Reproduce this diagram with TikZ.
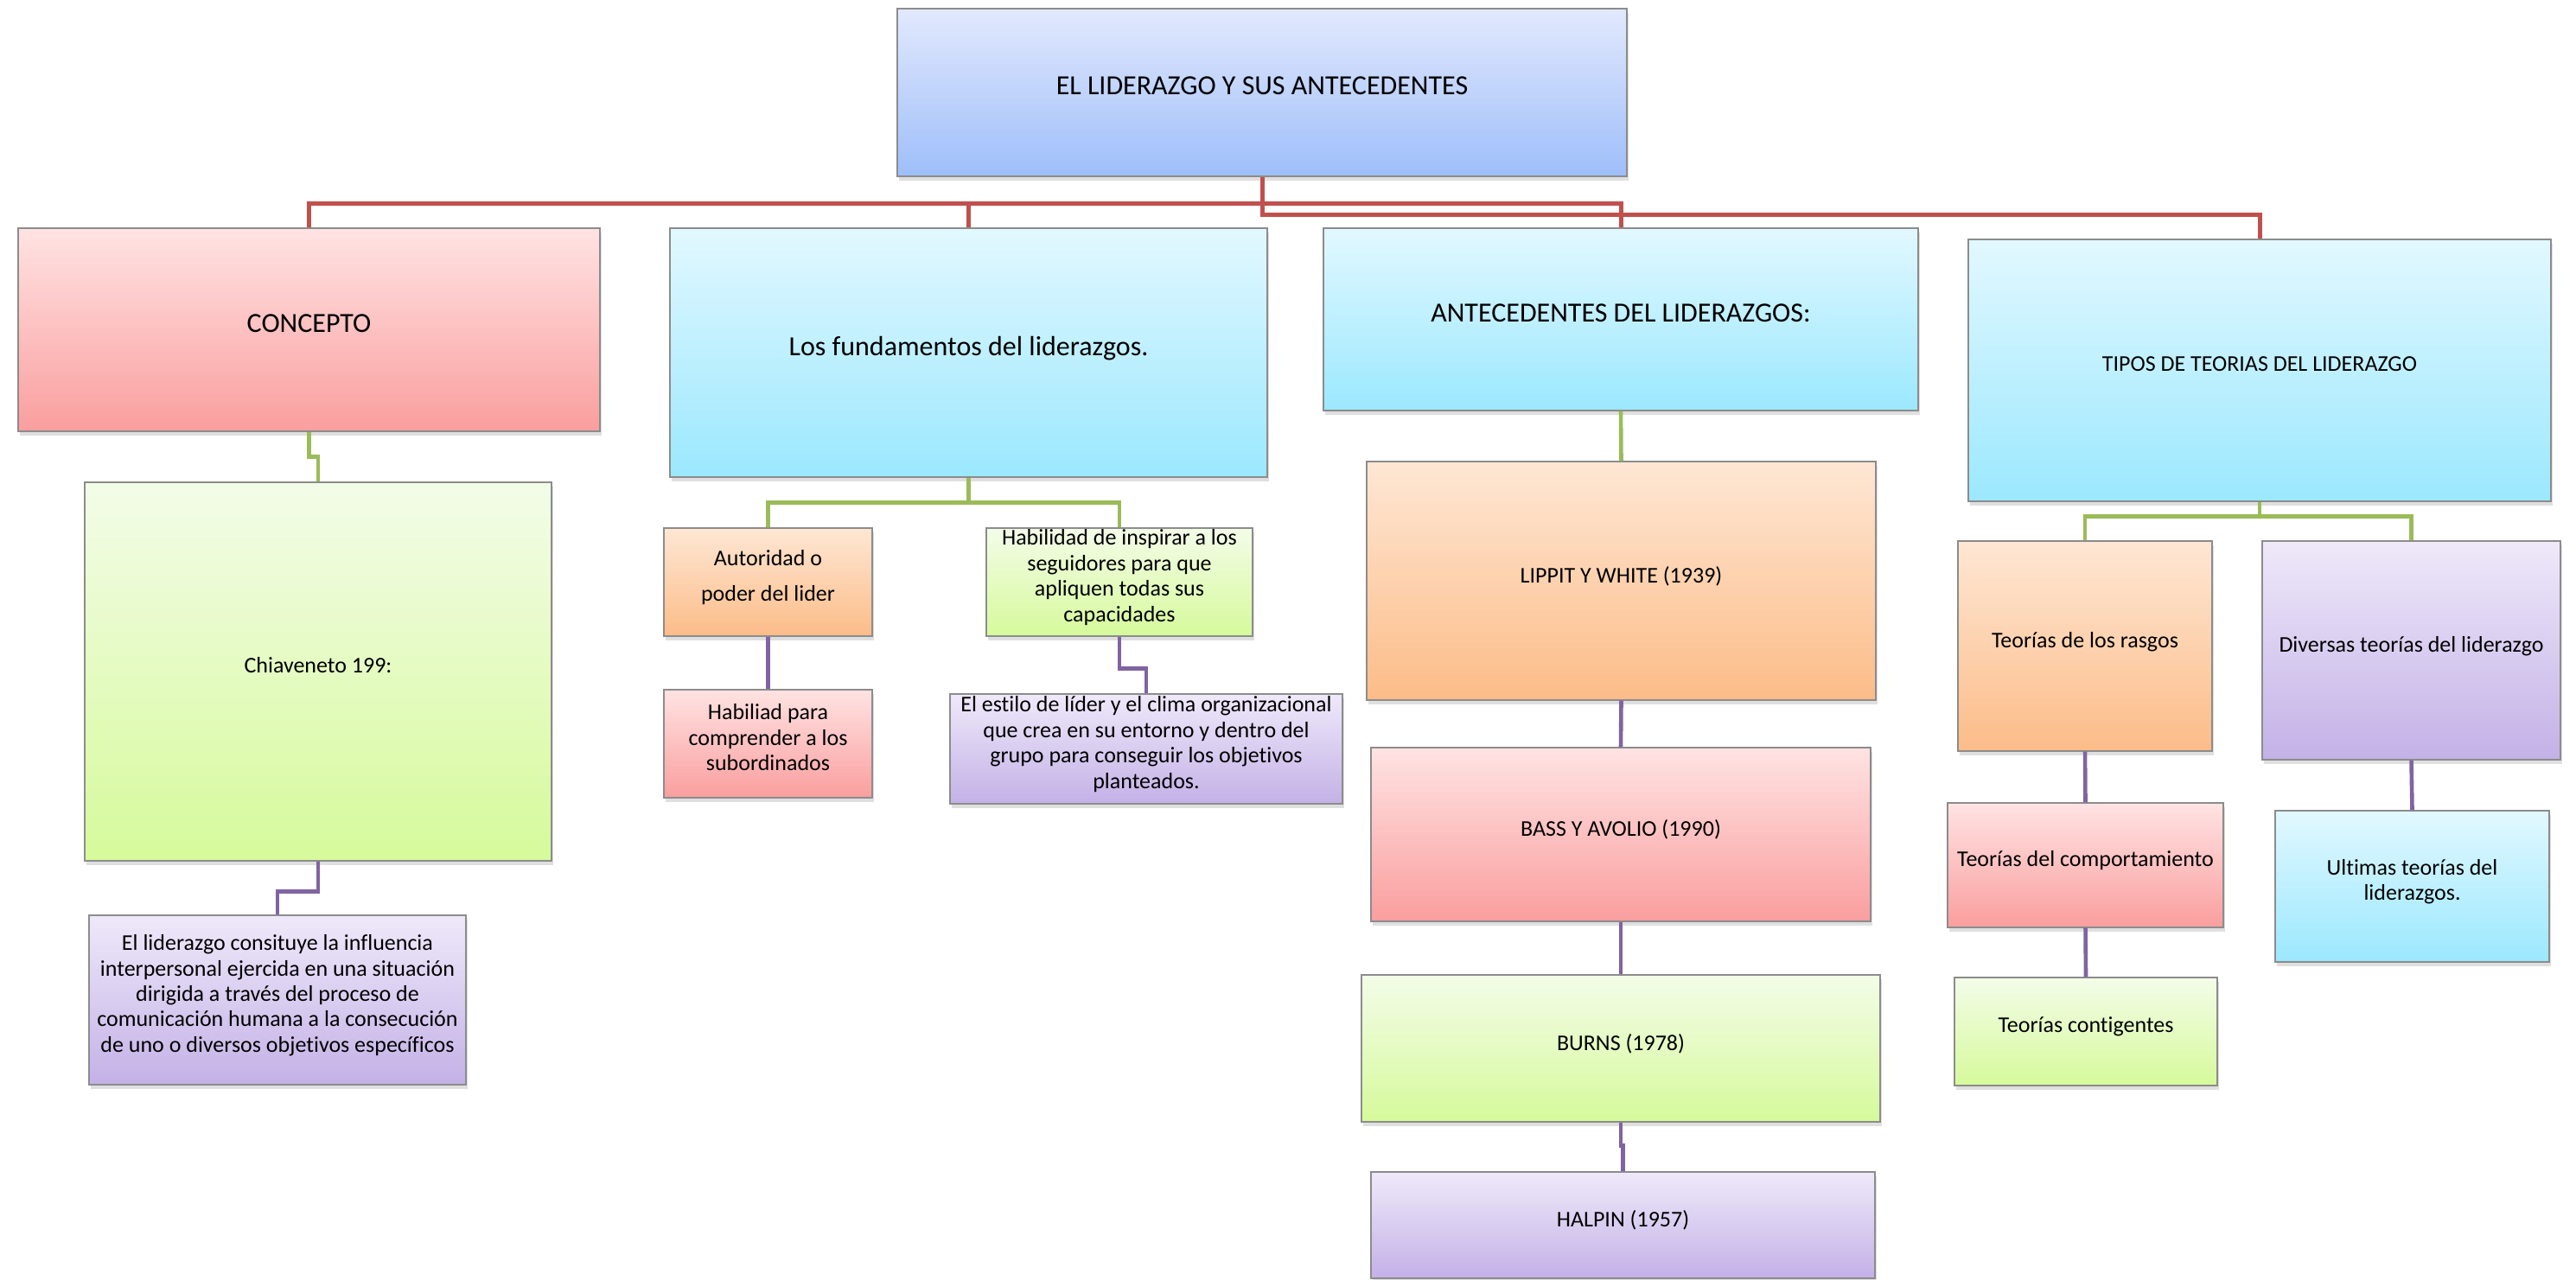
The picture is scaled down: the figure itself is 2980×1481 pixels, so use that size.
\documentclass[tikz,border=0pt]{standalone}
\usepackage{fontspec}
\setmainfont{Carlito}[Ligatures=NoCommon]
\usetikzlibrary{shadows}

%line colours
\definecolor{rojolinea}{RGB}{192,80,77}
\definecolor{verdelinea}{RGB}{155,187,89}
\definecolor{moradolinea}{RGB}{128,100,162}
%fill colours
\definecolor{azulA}{RGB}{226,233,253}
\definecolor{azulB}{RGB}{158,190,250}
\definecolor{rosaA}{RGB}{255,227,227}
\definecolor{rosaB}{RGB}{250,158,158}
\definecolor{cianA}{RGB}{226,248,255}
\definecolor{cianB}{RGB}{155,232,254}
\definecolor{verdeA}{RGB}{243,252,232}
\definecolor{verdeB}{RGB}{214,250,155}
\definecolor{naranjaA}{RGB}{254,231,212}
\definecolor{naranjaB}{RGB}{252,188,136}
\definecolor{moradoA}{RGB}{239,233,250}
\definecolor{moradoB}{RGB}{195,177,230}

\tikzset{
	caja/.style={draw=black!45, line width=0.6pt, align=center, inner xsep=1pt, inner ysep=0.5pt,
		text depth=7.5pt, font=\fontsize{13}{14.7}\selectfont,
		drop shadow={shadow xshift=1pt, shadow yshift=-2.5pt, opacity=0.25}},
	grande/.style={font=\fontsize{16}{19}\selectfont},
	azul/.style={caja, top color=azulA, bottom color=azulB},
	rosa/.style={caja, top color=rosaA, bottom color=rosaB},
	cian/.style={caja, top color=cianA, bottom color=cianB},
	verde/.style={caja, top color=verdeA, bottom color=verdeB},
	naranja/.style={caja, top color=naranjaA, bottom color=naranjaB},
	morado/.style={caja, top color=moradoA, bottom color=moradoB},
	rojo/.style={draw=rojolinea, line width=2.5pt},
	verdel/.style={draw=verdelinea, line width=2.3pt},
	moradol/.style={draw=moradolinea, line width=2.3pt}
}

\begin{document}
\begin{tikzpicture}[x=0.5pt, y=-0.5pt]
	\useasboundingbox (0,0) rectangle (2980,1481);

	%title and first level
	\node[azul, grande, minimum width=422pt, minimum height=97pt] (titulo) at (1460,107) {EL LIDERAZGO Y SUS ANTECEDENTES};
	\node[rosa, grande, minimum width=336.5pt, minimum height=117.5pt] (concepto) at (357.5,381.5) {CONCEPTO};
	\node[cian, grande, minimum width=345.5pt, minimum height=144pt] (fundamentos) at (1120.5,408) {Los fundamentos del liderazgos.};
	\node[cian, grande, minimum width=344pt, minimum height=105.5pt] (antecedentes) at (1875,369.5) {ANTECEDENTES DEL LIDERAZGOS:};
	\node[cian, minimum width=337pt, minimum height=151.5pt] (tipos) at (2614,428.5) {TIPOS DE TEORIAS DEL LIDERAZGO};

	%concepto
	\node[verde, minimum width=270pt, minimum height=219pt] (chiaveneto) at (368,777) {Chiaveneto 199:};
	\node[morado, minimum width=218pt, minimum height=98pt] (definicion) at (321,1157) {El liderazgo consituye la influencia\\ interpersonal ejercida en una situación\\ dirigida a través del proceso de\\ comunicación humana a la consecución\\ de uno o diversos objetivos específicos};

	%fundamentos
	\node[naranja, minimum width=120.5pt, minimum height=62.5pt] (autoridad) at (888.5,673.5) {Autoridad o\\[6pt] poder del lider};
	\node[verde, minimum width=154pt, minimum height=62.5pt] (inspirar) at (1295,673.5) {Habilidad de inspirar a los\\ seguidores para que\\ apliquen todas sus\\ capacidades};
	\node[rosa, minimum width=120.5pt, minimum height=62.5pt] (comprender) at (888.5,860.5) {Habiliad para\\ comprender a los\\ subordinados};
	\node[morado, minimum width=227pt, minimum height=63.5pt] (estilo) at (1326,866.5) {El estilo de líder y el clima organizacional\\ que crea en su entorno y dentro del\\ grupo para conseguir los objetivos\\ planteados.};

	%antecedentes
	\node[naranja, minimum width=294.5pt, minimum height=138pt] (lippit) at (1875.5,672) {LIPPIT Y WHITE (1939)};
	\node[rosa, minimum width=289pt, minimum height=100.5pt] (bass) at (1875,965.5) {BASS Y AVOLIO (1990)};
	\node[verde, minimum width=300pt, minimum height=85pt] (burns) at (1875,1213) {BURNS (1978)};
	\node[morado, minimum width=291.5pt, minimum height=61.5pt] (halpin) at (1877.5,1417.5) {HALPIN (1957)};

	%tipos
	\node[naranja, minimum width=147pt, minimum height=121.5pt] (rasgos) at (2412,747.5) {Teorías de los rasgos};
	\node[morado, minimum width=172.5pt, minimum height=126.5pt] (diversas) at (2789.5,752.5) {Diversas teorías del liderazgo};
	\node[rosa, minimum width=159.5pt, minimum height=72pt] (comportamiento) at (2412.5,1001) {Teorías del comportamiento};
	\node[verde, minimum width=152pt, minimum height=62.5pt] (contigentes) at (2413,1193.5) {Teorías contigentes};
	\node[cian, minimum width=158.5pt, minimum height=87.5pt] (ultimas) at (2790.5,1025.5) {Ultimas teorías del\\ liderazgos.};

	%red connectors
	\draw[rojo] (titulo.south) -- ++(0,31) -| (concepto.north);
	\draw[rojo] (titulo.south) -- ++(0,31) -| (fundamentos.north);
	\draw[rojo] (titulo.south) -- ++(0,31) -| (antecedentes.north);
	\draw[rojo] (titulo.south) -- ++(0,44) -| (tipos.north);

	%green connectors
	\draw[verdel] (concepto.south) -- ++(0,29) -| (chiaveneto.north);
	\draw[verdel] (fundamentos.south) -- ++(0,29) -| (autoridad.north);
	\draw[verdel] (fundamentos.south) -- ++(0,29) -| (inspirar.north);
	\draw[verdel] (antecedentes.south) -- (lippit.north);
	\draw[verdel] (tipos.south) -- ++(0,17) -| (rasgos.north);
	\draw[verdel] (tipos.south) -- ++(0,17) -| (diversas.north);

	%purple connectors
	\draw[moradol] (chiaveneto.south) -- ++(0,35) -| (definicion.north);
	\draw[moradol] (autoridad.south) -- (comprender.north);
	\draw[moradol] (inspirar.south) -- ++(0,37) -| (estilo.north);
	\draw[moradol] (lippit.south) -- (bass.north);
	\draw[moradol] (bass.south) -- (burns.north);
	\draw[moradol] (burns.south) -- ++(0,27) -| (halpin.north);
	\draw[moradol] (rasgos.south) -- (comportamiento.north);
	\draw[moradol] (comportamiento.south) -- (contigentes.north);
	\draw[moradol] (diversas.south) -- (ultimas.north);

\end{tikzpicture}
\end{document}
